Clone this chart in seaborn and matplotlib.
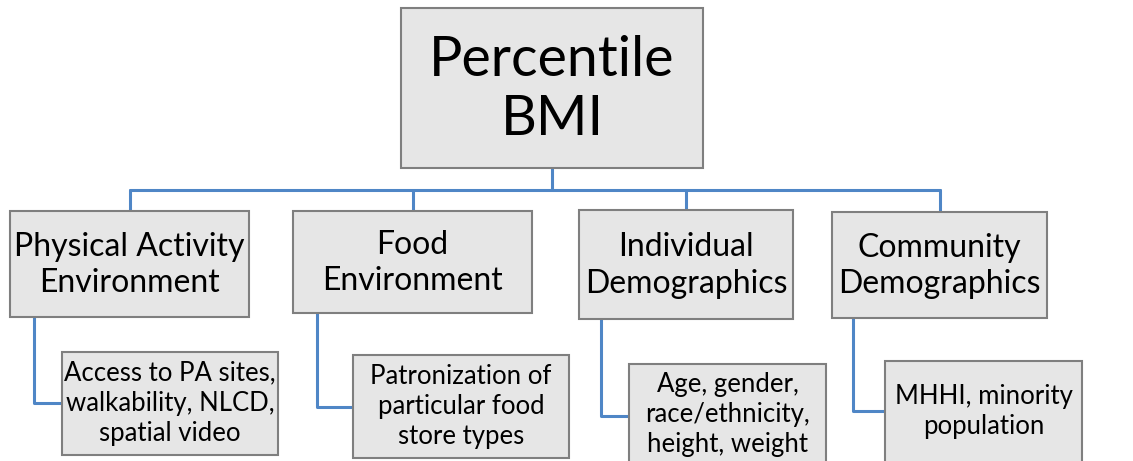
import matplotlib
matplotlib.use("Agg")
import matplotlib.pyplot as plt
import seaborn as sns
from matplotlib.patches import Rectangle

# node texts
root_label = "Percentile\nBMI"
domain_labels = ["Physical Activity\nEnvironment", "Food\nEnvironment",
                 "Individual\nDemographics", "Community\nDemographics"]
measure_labels = ["Access to PA sites,\nwalkability, NLCD,\nspatial video",
                  "Patronization of\nparticular food\nstore types",
                  "Age, gender,\nrace/ethnicity,\nheight, weight",
                  "MHHI, minority\npopulation"]

# layout in pixels (x0, y0, x1, y1), y counted from the top
root_box = (401, 8, 703, 168)
domain_boxes = [(10, 211, 249, 317), (293, 211, 532, 313),
                (579, 210, 793, 319), (832, 212, 1047, 318)]
measure_boxes = [(62, 352, 278, 455), (353, 355, 569, 458),
                 (629, 364, 826, 480), (885, 361, 1082, 480)]
measure_text_y = [403, 406, 414, 411]
elbow_x = [34, 317, 601, 853]
elbow_y = [403, 407, 416, 411]
bus_y = 190

fill = "#e6e6e6"
edge = "#7f7f7f"
blue = "#4f86c6"

sns.set_theme(style="white")
plt.rcParams['font.family'] = ['Lato', 'DejaVu Sans']

fig = plt.figure(figsize=(11.33, 4.61), dpi=100)
ax = fig.add_axes([0, 0, 1, 1])
ax.set_xlim(0, 1133)
ax.set_ylim(461, 0)
ax.axis('off')


def box(b, z=2):
    x0, y0, x1, y1 = b
    ax.add_patch(Rectangle((x0, y0), x1 - x0, y1 - y0, facecolor=fill,
                           edgecolor=edge, linewidth=1.5, zorder=z))


# connectors
cx = (root_box[0] + root_box[2]) / 2
ax.plot([cx, cx], [root_box[3], bus_y], color=blue, lw=2.2, zorder=1)
centers = [(b[0] + b[2]) / 2 for b in domain_boxes]
ax.plot([centers[0], centers[-1]], [bus_y, bus_y], color=blue, lw=2.2, zorder=1)
for c, b in zip(centers, domain_boxes):
    ax.plot([c, c], [bus_y, b[1]], color=blue, lw=2.2, zorder=1)
for ex, ey, db, mb in zip(elbow_x, elbow_y, domain_boxes, measure_boxes):
    ax.plot([ex, ex, mb[0]], [db[3], ey, ey], color=blue, lw=2.2, zorder=1)

# boxes and texts
box(root_box)
ax.text(cx, (root_box[1] + root_box[3]) / 2 + 2, root_label, ha='center', va='center',
        fontsize=40, linespacing=1.2, color='black', zorder=3)
for lab, b in zip(domain_labels, domain_boxes):
    box(b)
    ax.text((b[0] + b[2]) / 2, (b[1] + b[3]) / 2 + 1, lab, ha='center', va='center',
            fontsize=23, linespacing=1.28, color='black', zorder=3)
for lab, b, ty in zip(measure_labels, measure_boxes, measure_text_y):
    box(b)
    ax.text((b[0] + b[2]) / 2, ty, lab, ha='center', va='center',
            fontsize=18.5, linespacing=1.25, color='black', zorder=3)

fig.savefig("out.png", dpi=100, facecolor='white')
